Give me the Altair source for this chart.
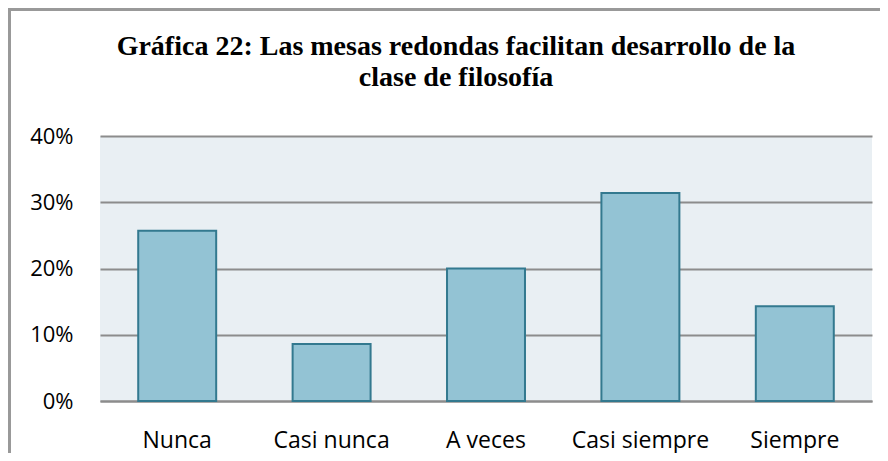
import altair as alt
import pandas as pd

categories = ["Nunca", "Casi nunca", "A veces", "Casi siempre", "Siempre"]
values = [0.257, 0.086, 0.200, 0.314, 0.143]
y_ticks = [0, 0.1, 0.2, 0.3, 0.4]
title_lines = ["Gráfica 22: Las mesas redondas facilitan desarrollo de la", "clase de filosofía"]

df = pd.DataFrame({"cat": categories, "val": values})

W, H = 772, 265

bars = alt.Chart(df).mark_bar(fill="#93c3d4", stroke="#33798f", strokeWidth=2).encode(
    x=alt.X("cat:N", sort=categories, title=None,
            scale=alt.Scale(paddingInner=0.495, paddingOuter=0.2475),
            axis=alt.Axis(labelAngle=0, labelFont="Open Sans", labelFontSize=23,
                          labelColor="#000000", labelPadding=28, ticks=False,
                          domainColor="#8c8c8c", domainWidth=2, grid=False)),
    y=alt.Y("val:Q", title=None, scale=alt.Scale(domain=[0, 0.4]),
            axis=alt.Axis(values=y_ticks, format=".0%", labelFont="Open Sans", labelFontSize=22,
                          labelColor="#000000", labelPadding=27, ticks=False,
                          domain=False, gridColor="#8c8c8c", gridWidth=2)),
)

frame = alt.Chart(alt.Data(values=[{"k": 1}])).mark_rect(
    filled=False, stroke="#999999", strokeWidth=3
).encode(
    x=alt.value(-90.5), x2=alt.value(W + 60),
    y=alt.value(-126.5), y2=alt.value(H + 120),
)

chart = alt.layer(frame, bars).properties(
    width=W, height=H,
    title=alt.TitleParams(text=title_lines, font="Liberation Serif", fontSize=28,
                          fontWeight="bold", color="#000000", anchor="middle",
                          dx=-30, dy=106, offset=0, lineHeight=31, baseline="alphabetic"),
    autosize=alt.AutoSizeParams(type="none"),
    padding={"left": 92, "top": 128, "right": 8, "bottom": 52},
).configure_view(fill="#e9eff3", strokeWidth=0)

chart.save("out.html", embed_options={"renderer": "svg", "actions": False})
